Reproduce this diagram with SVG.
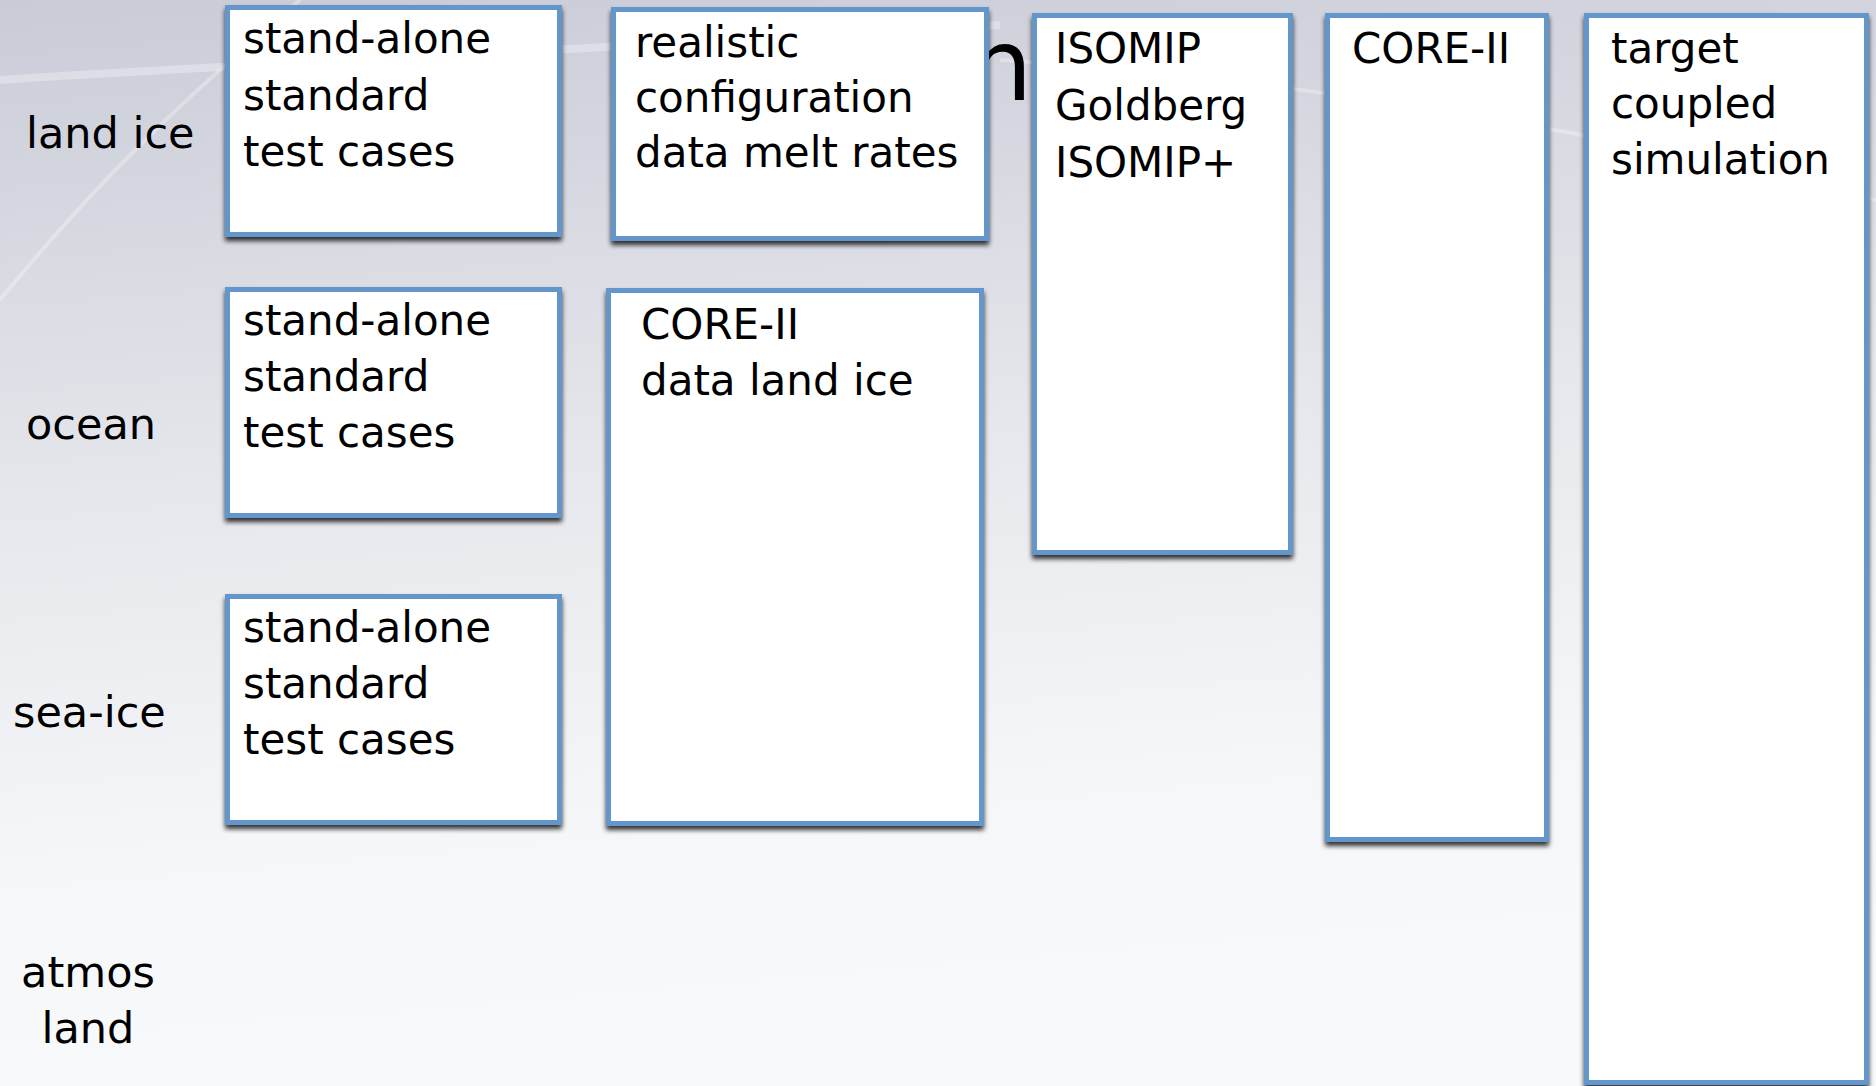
<svg xmlns="http://www.w3.org/2000/svg" width="1876" height="1086" viewBox="0 0 1876 1086">
  <defs>
    <linearGradient id="bg" x1="0" y1="0" x2="0.15" y2="1">
      <stop offset="0" stop-color="#c9cbd7"/>
      <stop offset="0.45" stop-color="#e6e7ec"/>
      <stop offset="0.8" stop-color="#f6f7f9"/>
      <stop offset="1" stop-color="#f8f9fa"/>
    </linearGradient>
    <filter id="shadow" x="-5%" y="-5%" width="110%" height="110%">
      <feDropShadow dx="0" dy="4" stdDeviation="2.5" flood-color="#000" flood-opacity="0.8"/>
    </filter>
    <style>
      .box { fill: #ffffff; stroke: #6397cb; stroke-width: 5; filter: url(#shadow); }
      .txt { font-family: "DejaVu Sans", "Liberation Sans", sans-serif; font-size: 42px; fill: #000; }
      .lbl { font-family: "DejaVu Sans", "Liberation Sans", sans-serif; font-size: 43px; fill: #000; }
      .swoosh { fill: none; stroke: #ffffff; stroke-opacity: 0.3; }
    </style>
  </defs>

  <!-- backdrop -->
  <rect x="0" y="0" width="1876" height="1086" fill="url(#bg)"/>
  <path class="swoosh" stroke-width="4" d="M0,300 C90,190 170,110 300,0"/>
  <path class="swoosh" stroke-width="8" d="M0,80 C300,60 700,45 1000,25"/>
  <path class="swoosh" stroke-width="4" d="M1000,60 C1300,80 1600,130 1876,200"/>

  <!-- title glyph partly covered by the boxes -->
  <text x="969" y="100" font-family="DejaVu Sans, sans-serif" font-size="100" fill="#000">n</text>

  <!-- row labels -->
  <g id="labels">
    <text class="lbl" x="26" y="148">land ice</text>
    <text class="lbl" x="26" y="439">ocean</text>
    <text class="lbl" x="13" y="727">sea-ice</text>
    <text class="lbl" x="88" y="987" text-anchor="middle">atmos</text>
    <text class="lbl" x="88" y="1043" text-anchor="middle">land</text>
  </g>

  <!-- no connectors are drawn -->
  <g id="connectors"/>

  <g id="landice-standalone">
    <rect class="box" x="227.5" y="7.5" width="332" height="227"/>
    <text class="txt" x="243" y="53">stand-alone</text>
    <text class="txt" x="243" y="110">standard</text>
    <text class="txt" x="243" y="166">test cases</text>
  </g>

  <g id="ocean-standalone">
    <rect class="box" x="227.5" y="289.5" width="332" height="226"/>
    <text class="txt" x="243" y="335">stand-alone</text>
    <text class="txt" x="243" y="391">standard</text>
    <text class="txt" x="243" y="447">test cases</text>
  </g>

  <g id="seaice-standalone">
    <rect class="box" x="227.5" y="596.5" width="332" height="226"/>
    <text class="txt" x="243" y="642">stand-alone</text>
    <text class="txt" x="243" y="698">standard</text>
    <text class="txt" x="243" y="754">test cases</text>
  </g>

  <g id="realistic-config">
    <rect class="box" x="613.5" y="9.5" width="373" height="229"/>
    <text class="txt" x="635" y="57">realistic</text>
    <text class="txt" x="635" y="112">configuration</text>
    <text class="txt" x="635" y="167">data melt rates</text>
  </g>

  <g id="core2-data-landice">
    <rect class="box" x="608.5" y="290.5" width="373" height="533"/>
    <text class="txt" x="641" y="339">CORE-II</text>
    <text class="txt" x="641" y="395">data land ice</text>
  </g>

  <g id="isomip">
    <rect class="box" x="1034.5" y="15.5" width="256" height="537"/>
    <text class="txt" x="1055" y="63">ISOMIP</text>
    <text class="txt" x="1055" y="120">Goldberg</text>
    <text class="txt" x="1055" y="177">ISOMIP+</text>
  </g>

  <g id="core2">
    <rect class="box" x="1327.5" y="15.5" width="219" height="824"/>
    <text class="txt" x="1352" y="63">CORE-II</text>
  </g>

  <g id="target-coupled">
    <rect class="box" x="1586.5" y="15.5" width="280" height="1067"/>
    <text class="txt" x="1611" y="63">target</text>
    <text class="txt" x="1611" y="118">coupled</text>
    <text class="txt" x="1611" y="174">simulation</text>
  </g>
</svg>
